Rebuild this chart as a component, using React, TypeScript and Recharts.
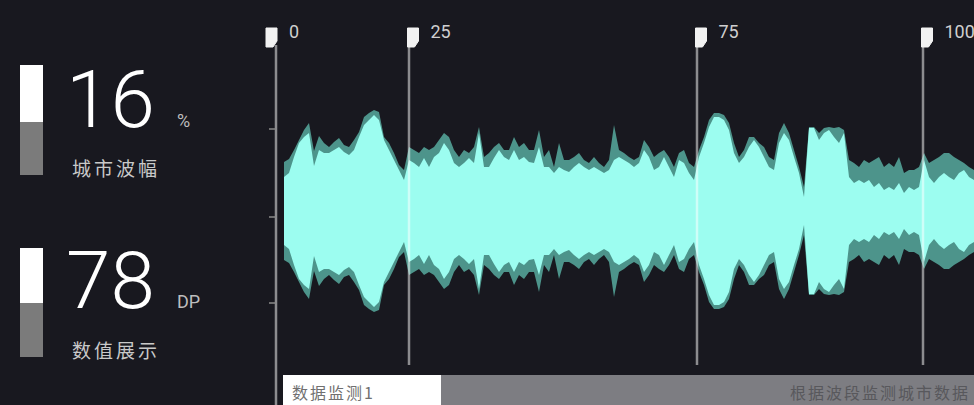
import { ComposedChart, Area, XAxis, YAxis, ReferenceLine } from "recharts";

// waveform amplitude, one sample every 5px, bright core and dark outer envelope
const innerAmp = [
  34, 38, 54, 68, 74, 78, 45, 61, 58, 58, 61, 64, 59, 56, 61, 74, 86, 91, 96, 91,
  71, 61, 51, 41, 31, 51, 48, 44, 53, 44, 54, 58, 68, 61, 48, 44, 48, 53, 48, 78,
  44, 44, 53, 61, 54, 51, 61, 51, 54, 49, 48, 64, 44, 44, 38, 44, 41, 39, 44, 48,
  44, 41, 44, 41, 38, 41, 51, 54, 51, 48, 44, 48, 61, 54, 41, 44, 54, 44, 34, 51,
  48, 38, 31, 54, 68, 84, 94, 94, 91, 81, 58, 48, 54, 64, 71, 64, 54, 44, 41, 68,
  78, 71, 54, 38, 14, 83, 83, 71, 78, 81, 74, 68, 78, 34, 28, 31, 28, 31, 24, 28,
  21, 24, 21, 28, 18, 24, 21, 24, 51, 34, 28, 34, 38, 34, 31, 38, 41, 34, 31,
];
const outerAmp = [
  49, 52, 61, 71, 81, 88, 60, 75, 68, 64, 69, 73, 66, 64, 71, 79, 94, 98, 101, 99,
  74, 68, 58, 46, 41, 64, 61, 58, 64, 61, 64, 71, 78, 74, 61, 54, 61, 58, 64, 84,
  54, 58, 64, 68, 61, 61, 74, 64, 68, 61, 61, 81, 54, 61, 44, 68, 51, 51, 54, 58,
  51, 48, 54, 48, 44, 51, 86, 61, 58, 54, 51, 54, 71, 64, 54, 58, 61, 54, 44, 58,
  61, 48, 44, 61, 74, 91, 98, 98, 96, 88, 68, 54, 61, 74, 74, 68, 64, 54, 51, 78,
  88, 78, 61, 44, 24, 84, 84, 78, 83, 84, 83, 84, 81, 51, 48, 44, 51, 48, 51, 54,
  44, 48, 44, 54, 38, 41, 41, 44, 58, 48, 51, 54, 58, 58, 54, 51, 48, 44, 41,
];

const markerPos = [-1.6, 25, 82.6, 127.8];
const markerLabels = ["0", "25", "75", "100"];
const yTicks = [82, -6, -92];

const statValues = ["16", "78"];
const statUnits = ["%", "DP"];
const statNames = ["城市波幅", "数值展示"];
const statShare = [0.52, 0.5];

const bandLabels = ["数据监测1", "根据波段监测城市数据"];

const data = innerAmp.map((v, i) => ({ i, inner: v, outer: outerAmp[i] }));

const BG = "#18181f";
const LATIN = "Roboto, 'Liberation Sans', sans-serif";
const CJK = "'Noto Sans CJK SC', sans-serif";

function Marker(props: any) {
  const { x1, y1, y2, label, first } = props;
  const x = x1;
  const top = 28;
  const w = 11;
  const fx = first ? x - 10 : x - 1.5;
  return (
    <g>
      <line x1={x} y1={y1} x2={x} y2={y2} stroke="rgba(255,255,255,0.5)" strokeWidth={2.5} />
      <path
        d={`M${fx},${top} h${w} v13 l-4,6 h${-(w - 4)} z`}
        fill="#f2f2f2"
        stroke="#f2f2f2"
        strokeWidth={1}
        strokeLinejoin="round"
      />
      <text
        x={fx + w + 12}
        y={top + 3}
        fill="#cfcfcf"
        fontSize={18}
        fontFamily={LATIN}
        dominantBaseline="central"
      >
        {label}
      </text>
    </g>
  );
}

function Overlay() {
  const groups = [
    { barTop: 65, barH: 110, baseline: 127, nameY: 167 },
    { barTop: 248, barH: 109, baseline: 308, nameY: 349 },
  ];
  return (
    <svg
      width={974}
      height={405}
      style={{ position: "absolute", left: 0, top: 0, pointerEvents: "none" }}
    >
      {groups.map((g, k) => {
        const whiteH = Math.round(g.barH * statShare[k]);
        return (
          <g key={k}>
            <rect x={20} y={g.barTop} width={23} height={whiteH} fill="#ffffff" />
            <rect x={20} y={g.barTop + whiteH} width={23} height={g.barH - whiteH} fill="#7b7b7b" />
            <text x={66} y={g.baseline} fill="#ffffff" fontSize={80} fontWeight={300} fontFamily={LATIN}>
              {statValues[k]}
            </text>
            <text x={177} y={g.baseline} fill="#bdbdbd" fontSize={18} fontFamily={LATIN}>
              {statUnits[k]}
            </text>
            <text
              x={72}
              y={g.nameY}
              fill="#c9c9c9"
              fontSize={19}
              letterSpacing={3}
              fontFamily={CJK}
              dominantBaseline="central"
            >
              {statNames[k]}
            </text>
          </g>
        );
      })}
      <rect x={283} y={375} width={158} height={30} fill="#ffffff" />
      <rect x={441} y={375} width={533} height={30} fill="#7d7d82" />
      <text x={292} y={392} fill="#707070" fontSize={16} letterSpacing={2} fontFamily={CJK} dominantBaseline="central">
        {bandLabels[0]}
      </text>
      <text x={790} y={392} fill="#58585c" fontSize={16} letterSpacing={2} fontFamily={CJK} dominantBaseline="central">
        {bandLabels[1]}
      </text>
    </svg>
  );
}

export default function App() {
  return (
    <div
      style={{
        position: "fixed",
        left: 0,
        top: 0,
        width: 974,
        height: 405,
        overflow: "hidden",
        background: BG,
      }}
    >
      <ComposedChart
        width={974}
        height={405}
        data={data}
        margin={{ top: 45, right: 0, bottom: 0, left: 276 }}
      >
        <XAxis type="number" dataKey="i" domain={[-1.6, 138]} allowDataOverflow hide />
        <YAxis
          type="number"
          domain={[-194, 166]}
          allowDataOverflow
          width={1}
          mirror
          axisLine={false}
          ticks={yTicks}
          tickFormatter={() => ""}
          tickSize={-7}
          tickLine={{ stroke: "#8a8a8a", strokeWidth: 1.5 }}
        />
        <Area
          type="linear"
          dataKey={(d: any) => [-d.outer, d.outer]}
          stroke="none"
          fill="#4d948b"
          fillOpacity={1}
          isAnimationActive={false}
        />
        <Area
          type="linear"
          dataKey={(d: any) => [-d.inner, d.inner]}
          stroke="none"
          fill="#9cfdf0"
          fillOpacity={1}
          isAnimationActive={false}
        />
        {markerPos.map((p, k) => (
          <ReferenceLine
            key={markerLabels[k]}
            segment={[
              { x: p, y: 166 },
              { x: p, y: k === 0 ? -194 : -154 },
            ]}
            shape={(props: any) => <Marker {...props} label={markerLabels[k]} first={k === 0} />}
          />
        ))}
      </ComposedChart>
      <Overlay />
    </div>
  );
}
